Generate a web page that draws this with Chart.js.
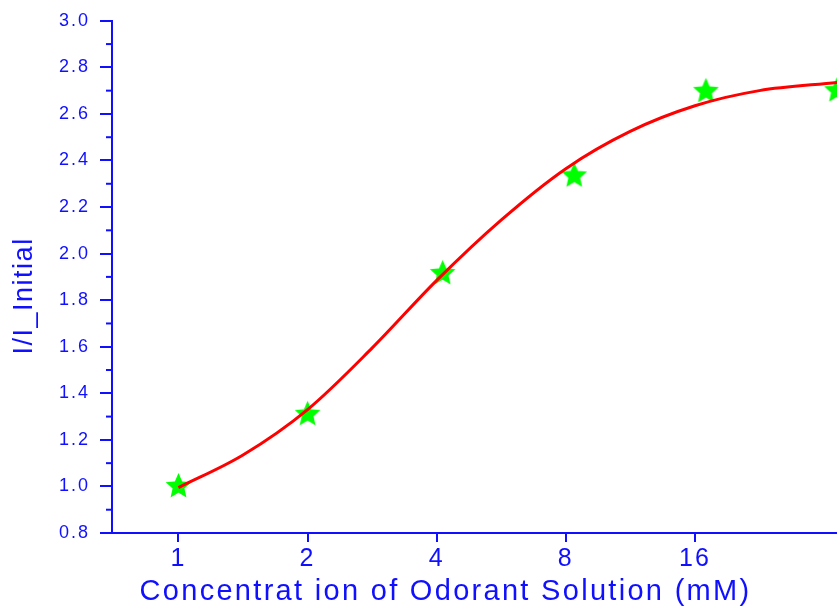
<!DOCTYPE html>
<html>
<head>
<meta charset="utf-8">
<title>I/I_Initial vs concentration</title>
<script src="https://cdn.jsdelivr.net/npm/chart.js@4.4.0/dist/chart.umd.min.js"></script>
<style>
    html, body { margin: 0; padding: 0; background: #fff; }
    canvas { display: block; }
</style>
</head>
<body>
<canvas id="doseChart" width="837" height="610"></canvas>
<script>
// measured points (green stars)
const concentrations = [1, 2, 4.13, 8.37, 16.97, 34.3];
const ratios = [1.0, 1.31, 1.915, 2.334, 2.697, 2.70];

// fitted curve
const fitX = [1, 1.414, 2, 2.83, 4, 5.66, 8, 11.3, 16, 22.6, 34.3];
const fitY = [0.995, 1.135, 1.33, 1.595, 1.885, 2.145, 2.365, 2.525, 2.635, 2.70, 2.735];

const xTicks = [1, 2, 4, 8, 16];
const yTicks = [0.8, 1.0, 1.2, 1.4, 1.6, 1.8, 2.0, 2.2, 2.4, 2.6, 2.8, 3.0];

const AXIS = '#1010ff';
const FONT = 'Arial, "Liberation Sans", sans-serif';

function makeStar(r, color) {
    const size = Math.ceil(r * 2 + 2);
    const c = document.createElement('canvas');
    c.width = size;
    c.height = size;
    const g = c.getContext('2d');
    g.fillStyle = color;
    g.beginPath();
    for (let i = 0; i < 10; i++) {
        const rad = i % 2 ? r * 0.46 : r;
        const a = -Math.PI / 2 + i * Math.PI / 5;
        g.lineTo(size / 2 + rad * Math.cos(a), size / 2 + rad * Math.sin(a));
    }
    g.closePath();
    g.fill();
    return c;
}

// letter spacing and nudges per scale part (Chart.js has no option for these)
const titleStyle = {
    x: { spacing: '2.3px', labels: '2px', dx: -29, dy: 1 },
    y: { spacing: '1.5px', labels: '2px', dx: 0, dy: 19 }
};

const titlePlugin = {
    id: 'titleStyle',
    beforeDraw(chart) {
        Object.values(chart.scales).forEach(scale => {
            const st = titleStyle[scale.id];
            if (scale._styled || !st) return;
            scale._styled = true;
            const origTitle = scale.drawTitle;
            scale.drawTitle = function (...args) {
                const c = this.ctx;
                c.save();
                c.letterSpacing = st.spacing;
                c.translate(st.dx, st.dy);
                origTitle.apply(this, args);
                c.restore();
            };
            const origLabels = scale.drawLabels;
            scale.drawLabels = function (...args) {
                const c = this.ctx;
                c.save();
                c.letterSpacing = st.labels;
                origLabels.apply(this, args);
                c.restore();
            };
        });
    }
};

// short minor ticks half way between the labelled y ticks
const minorTicks = {
    id: 'minorTicks',
    afterDraw(chart) {
        const y = chart.scales.y;
        const ctx = chart.ctx;
        const vals = y.ticks.map(t => t.value);
        ctx.save();
        ctx.strokeStyle = AXIS;
        ctx.lineWidth = 2;
        for (let i = 0; i < vals.length - 1; i++) {
            const py = y.getPixelForValue((vals[i] + vals[i + 1]) / 2);
            ctx.beginPath();
            ctx.moveTo(y.right - 6, py);
            ctx.lineTo(y.right, py);
            ctx.stroke();
        }
        ctx.restore();
    }
};

const ctx = document.getElementById('doseChart').getContext('2d');
new Chart(ctx, {
    type: 'line',
    data: {
        datasets: [
            {
                label: 'fit',
                data: fitX.map((x, i) => ({ x: x, y: fitY[i] })),
                borderColor: '#ff0000',
                borderWidth: 3,
                pointRadius: 0,
                cubicInterpolationMode: 'monotone',
                fill: false,
                order: 0
            },
            {
                label: 'measured',
                data: concentrations.map((x, i) => ({ x: x, y: ratios[i] })),
                showLine: false,
                pointStyle: makeStar(13.5, '#00ff00'),
                pointRadius: 13,
                clip: false,
                order: 1
            }
        ]
    },
    options: {
        responsive: false,
        animation: false,
        devicePixelRatio: 1,
        layout: {
            autoPadding: false,
            padding: { top: 18, right: 0, bottom: 0, left: 0 }
        },
        plugins: {
            legend: { display: false },
            tooltip: { enabled: false }
        },
        scales: {
            x: {
                type: 'logarithmic',
                min: 0.70,
                max: 34.3,
                afterBuildTicks: scale => {
                    scale.ticks = xTicks.map(v => ({ value: v }));
                },
                afterFit: scale => {
                    scale.height = 77;
                    scale.paddingLeft = 0;
                    scale.paddingRight = 0;
                },
                grid: {
                    drawOnChartArea: false,
                    drawTicks: true,
                    tickLength: 9,
                    color: AXIS,
                    lineWidth: 2
                },
                border: { display: true, color: AXIS, width: 2 },
                ticks: {
                    autoSkip: false,
                    maxRotation: 0,
                    padding: 2,
                    color: AXIS,
                    font: { family: FONT, size: 25 },
                    callback: v => String(v)
                },
                title: {
                    display: true,
                    text: 'Concentrat ion of Odorant Solution (mM)',
                    color: AXIS,
                    font: { family: FONT, size: 29 },
                    padding: { top: 0, bottom: 2 }
                }
            },
            y: {
                min: 0.8,
                max: 3.0,
                afterBuildTicks: scale => {
                    scale.ticks = yTicks.map(v => ({ value: v }));
                },
                afterFit: scale => { scale.width = 112; },
                grid: {
                    drawOnChartArea: false,
                    drawTicks: true,
                    tickLength: 12,
                    color: AXIS,
                    lineWidth: 2
                },
                border: { display: true, color: AXIS, width: 2 },
                ticks: {
                    padding: 10,
                    color: AXIS,
                    font: { family: FONT, size: 18 },
                    callback: v => v.toFixed(1)
                },
                title: {
                    display: true,
                    text: 'I/I_Initial',
                    color: AXIS,
                    font: { family: FONT, size: 27 },
                    padding: { top: 8, bottom: 0 }
                }
            }
        }
    },
    plugins: [titlePlugin, minorTicks]
});
</script>
</body>
</html>
